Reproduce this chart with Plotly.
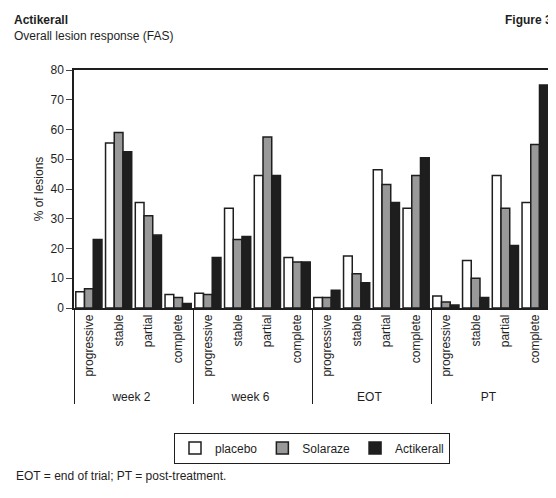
import plotly.graph_objects as go

groups = ["week 2", "week 6", "EOT", "PT"]
responses = ["progressive", "stable", "partial", "complete"]
placebo = [5.5, 55.5, 35.5, 4.5, 5, 33.5, 44.5, 17, 3.5, 17.5, 46.5, 33.5, 4, 16, 44.5, 35.5]
solaraze = [6.5, 59, 31, 3.5, 4.5, 23, 57.5, 15.5, 3.5, 11.5, 41.5, 44.5, 2, 10, 33.5, 55]
actikerall = [23, 52.5, 24.5, 1.5, 17, 24, 44.5, 15.5, 6, 8.5, 35.5, 50.5, 1, 3.5, 21, 75]

x = [[g for g in groups for _ in responses], responses * len(groups)]
font = "Liberation Sans Narrow, Arial Narrow, Liberation Sans, sans-serif"

W, H = 548, 490
L, R, T, B = 66, 6, 62, 190
pw, ph = W - L - R, H - T - B

fig = go.Figure()
for name, vals, col in [("placebo", placebo, "white"), ("Solaraze", solaraze, "#999999"),
                        ("Actikerall", actikerall, "#1e1e1e")]:
    fig.add_trace(go.Bar(x=x, y=vals, name=name, marker=dict(color=col, line=dict(color="#1e1e1e", width=1.5))))

fig.update_layout(
    width=W, height=H, barmode="group", bargap=0.12, bargroupgap=0,
    plot_bgcolor="white", paper_bgcolor="white",
    font=dict(family=font, size=12, color="#1e1e1e"),
    margin=dict(l=L, r=R, t=T, b=B, autoexpand=False),
    showlegend=True,
    legend=dict(orientation="h", x=0.5, xanchor="center", y=-(440 - T - ph) / ph + 0.0, yanchor="middle",
                bordercolor="#1e1e1e", borderwidth=1, font=dict(size=12)),
    xaxis=dict(type="multicategory", tickangle=-90, showline=True, linecolor="#1e1e1e", linewidth=1.5,
               mirror=True, showdividers=True, dividercolor="#1e1e1e", dividerwidth=1, ticks="",
               automargin=False),
    yaxis=dict(range=[0, 80], dtick=10, showgrid=False, ticks="outside", ticklen=6, zeroline=False,
               showline=True, linecolor="#1e1e1e", linewidth=1.5, mirror=True, automargin=False,
               title=dict(text="% of lesions", standoff=4, font=dict(size=12))),
)
top = 1 + (T - 3) / ph
fig.add_annotation(text="<b>Actikerall</b>", x=-(L - 4) / pw, y=top, xanchor="left", yanchor="top")
fig.add_annotation(text="<b>Figure 3</b>", x=1 + (R - 2) / pw, y=top, xanchor="right", yanchor="top")
fig.add_annotation(text="Overall lesion response (FAS)", x=-(L - 4) / pw, y=top, yshift=-16,
                   xanchor="left", yanchor="top")
fig.add_annotation(text="EOT = end of trial; PT = post-treatment.", x=-(L - 6) / pw, y=-(B - 22) / ph,
                   xanchor="left", yanchor="middle")
fig.update_annotations(xref="paper", yref="paper", showarrow=False, font=dict(size=12))

fig.write_html("out.html")
